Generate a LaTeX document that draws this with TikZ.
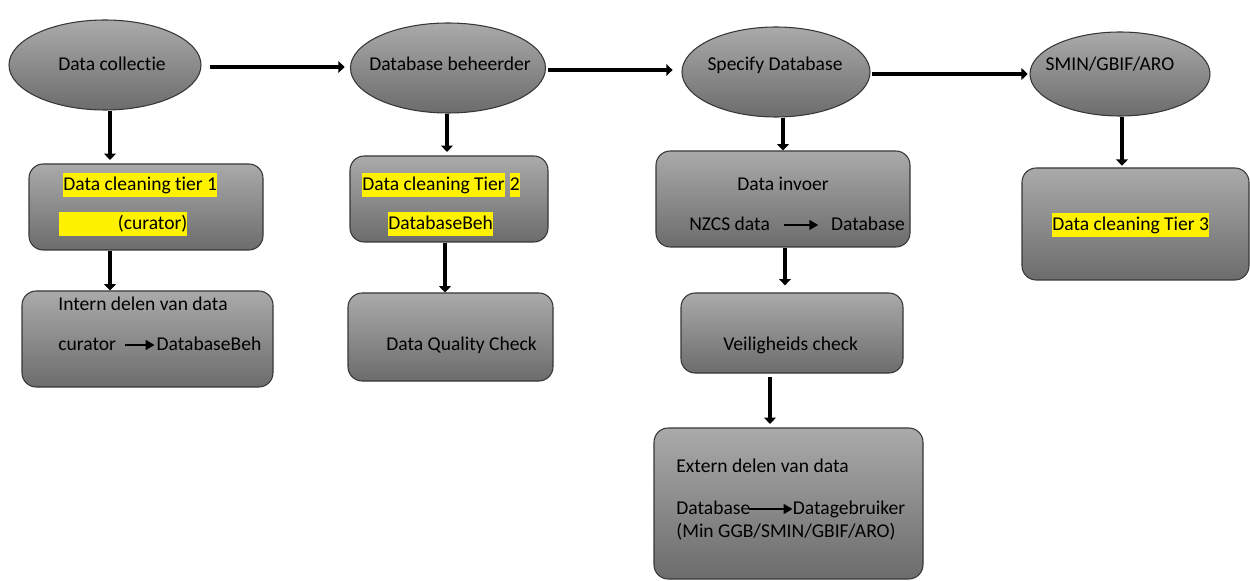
\documentclass[tikz,border=0pt]{standalone}
\usepackage{fontspec}
\setmainfont[Ligatures={NoCommon,NoContextual}, Contextuals=NoAlternate]{Carlito}
\usetikzlibrary{shapes.geometric,arrows.meta,positioning}

\definecolor{shadetop}{RGB}{170,170,170}
\definecolor{shadebot}{RGB}{108,108,108}
\definecolor{rim}{RGB}{55,55,55}
\newcommand{\px}{0.5625pt}

\tikzset{
  oval/.style={ellipse, draw=rim, line width=0.6pt, top color=shadetop, bottom color=shadebot, inner sep=0pt},
  panel/.style={rectangle, rounded corners=8pt, draw=rim, line width=0.6pt, top color=shadetop, bottom color=shadebot, inner sep=0pt},
  lbl/.style={inner sep=0pt, text height=9.5pt, text depth=3.5pt, font=\fontsize{11}{13}\selectfont},
  hl/.style={lbl, fill=yellow},
  flow/.style={line width=2.5pt, -{Triangle[length=3.5pt,width=6.5pt]}},
  inarrow/.style={line width=1.1pt, -{Triangle[length=5pt,width=5.5pt]}}
}

\begin{document}
\begin{tikzpicture}[x=\px, y=-\px]
  \useasboundingbox (0,0) rectangle (1250,581);

  % top row
  \node[oval, minimum width=192*\px, minimum height=90*\px] (collect) at (105,65) {};
  \node[oval, minimum width=195*\px, minimum height=90*\px] (beheer) at (448,68) {};
  \node[oval, minimum width=188*\px, minimum height=90*\px] (specify) at (776,72) {};
  \node[oval, minimum width=180*\px, minimum height=84*\px] (smin) at (1120,74) {};
  \node[lbl] (collectTxt) at (112,65) {Data collectie};
  \node[lbl] (beheerTxt) at (450,65) {Database beheerder};
  \node[lbl] (specifyTxt) at (775,65) {Specify Database};
  \node[lbl] (sminTxt) at (1110,65) {SMIN/GBIF/ARO};

  % boxes
  \node[panel, minimum width=234*\px, minimum height=86*\px] (tierone) at (146,207) {};
  \node[panel, minimum width=251*\px, minimum height=96*\px] (intern) at (147.5,339) {};
  \node[panel, minimum width=198*\px, minimum height=86*\px] (tiertwo) at (449,199) {};
  \node[panel, minimum width=205*\px, minimum height=88*\px] (quality) at (450.5,337) {};
  \node[panel, minimum width=254*\px, minimum height=96*\px] (invoer) at (783,199) {};
  \node[panel, minimum width=222*\px, minimum height=80*\px] (veilig) at (792,333) {};
  \node[panel, minimum width=269*\px, minimum height=151*\px] (extern) at (788.5,503.5) {};
  \node[panel, minimum width=227*\px, minimum height=112*\px] (tierthree) at (1135.5,224) {};

  % box texts
  \node[hl, anchor=west] (tieroneA) at (63,185) {Data cleaning tier 1};
  \node[hl, anchor=west, text width=72pt, align=right] (tieroneB) at (59,224) {(curator)};
  \node[lbl, anchor=west] (internA) at (58,305) {Intern delen van data};
  \node[lbl, anchor=west] (curator) at (58,345) {curator};
  \node[lbl, right=22.5pt of curator] (behB) {DatabaseBeh};

  \node[hl, anchor=west] (tiertwoA) at (362,185) {Data cleaning Tier};
  \node[hl, right=2.5pt of tiertwoA] (tiertwoN) {2};
  \node[hl, anchor=west] (tiertwoB) at (388,224) {DatabaseBeh};
  \node[lbl, anchor=west] (qualityTxt) at (386,345) {Data Quality Check};

  \node[lbl, anchor=west] (invoerA) at (737,185) {Data invoer};
  \node[lbl, anchor=west] (nzcs) at (689,225) {NZCS data};
  \node[lbl, right=34pt of nzcs] (dbase) {Database};
  \node[lbl, anchor=west] (veiligTxt) at (723,345) {Veiligheids check};

  \node[lbl, anchor=west] (externA) at (676,467) {Extern delen van data};
  \node[lbl, anchor=west] (dbsrc) at (676,509) {Database};
  \node[lbl, right=23.6pt of dbsrc] (gebruiker) {Datagebruiker};
  \node[lbl, anchor=west] (externC) at (676,532) {(Min GGB/SMIN/GBIF/ARO)};

  \node[hl, anchor=west] (tierthreeTxt) at (1052,225) {Data cleaning Tier 3};

  % arrows inside boxes
  \draw[inarrow] ([xshift=5pt]curator.east) -- ([xshift=-1pt]behB.west);
  \draw[inarrow] ([xshift=8pt]nzcs.east) -- ([xshift=-7pt]dbase.west);
  \draw[inarrow] ([xshift=-1pt]dbsrc.east) -- ([xshift=0pt]gebruiker.west);

  % flow along the top
  \draw[flow] ([xshift=4.5pt]collect.east |- 0,67) -- ([xshift=-3pt]beheer.west |- 0,67);
  \draw[flow] ([xshift=1pt]beheer.east |- 0,70) -- ([xshift=-5pt]specify.west |- 0,70);
  \draw[flow] ([xshift=1pt]specify.east |- 0,74) -- ([xshift=-1pt]smin.west |- 0,74);

  % flow downwards
  \draw[flow] (110,0 |- collect.south) -- ([yshift=2pt]110,0 |- tierone.north);
  \draw[flow] (110,0 |- tierone.south) -- (110,0 |- intern.north);
  \draw[flow] (447,0 |- beheer.south) -- ([yshift=2pt]447,0 |- tiertwo.north);
  \draw[flow] (445,0 |- tiertwo.south) -- (445,0 |- quality.north);
  \draw[flow] (783,0 |- specify.south) -- (783,0 |- invoer.north);
  \draw[flow] (785,0 |- invoer.south) -- ([yshift=4pt]785,0 |- veilig.north);
  \draw[flow] ([yshift=-2pt]770,0 |- veilig.south) -- ([yshift=2pt]770,0 |- extern.north);
  \draw[flow] (1122,0 |- smin.south) -- ([yshift=1pt]1122,0 |- tierthree.north);
\end{tikzpicture}
\end{document}
